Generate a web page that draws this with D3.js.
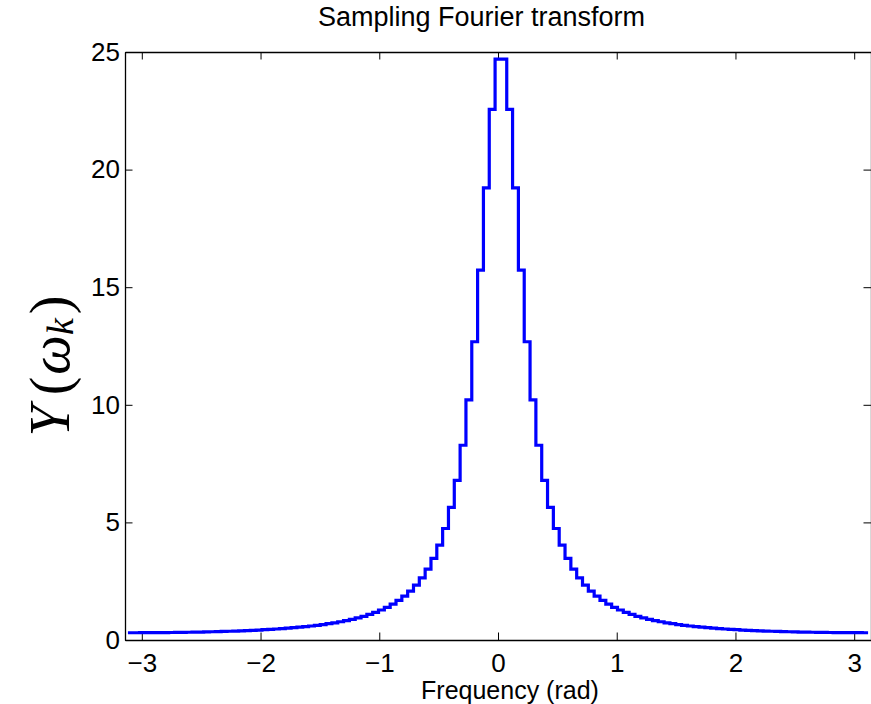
<!DOCTYPE html>
<html>
<head>
<meta charset="utf-8">
<script src="https://cdn.jsdelivr.net/npm/d3@7"></script>
<style>
  body { margin: 0; background: #fff; }
  svg { display: block; }
</style>
</head>
<body>
<div class="chart"></div>
<script>
const yValues = [
  0.309, 0.309, 0.310, 0.311, 0.312, 0.314, 0.317, 0.319, 0.322, 0.326,
  0.330, 0.334, 0.339, 0.345, 0.351, 0.357, 0.365, 0.372, 0.381, 0.390,
  0.401, 0.412, 0.424, 0.437, 0.451, 0.467, 0.484, 0.502, 0.523, 0.545,
  0.569, 0.596, 0.625, 0.657, 0.693, 0.732, 0.776, 0.824, 0.879, 0.940,
  1.008, 1.086, 1.175, 1.276, 1.391, 1.525, 1.681, 1.863, 2.078, 2.334,
  2.641, 3.013, 3.47, 4.03, 4.74, 5.64, 6.79, 8.28, 10.21, 12.68,
  15.73, 19.22, 22.56, 24.70,
  24.70, 22.56, 19.22, 15.73, 12.68, 10.21, 8.28, 6.79, 5.64, 4.74,
  4.03, 3.47, 3.013, 2.641, 2.334, 2.078, 1.863, 1.681, 1.525, 1.391,
  1.276, 1.175, 1.086, 1.008, 0.940, 0.879, 0.824, 0.776, 0.732, 0.693,
  0.657, 0.625, 0.596, 0.569, 0.545, 0.523, 0.502, 0.484, 0.467, 0.451,
  0.437, 0.424, 0.412, 0.401, 0.390, 0.381, 0.372, 0.365, 0.357, 0.351,
  0.345, 0.339, 0.334, 0.330, 0.326, 0.322, 0.319, 0.317, 0.314, 0.312,
  0.311, 0.310, 0.309, 0.309
];
const xTicks = [-3, -2, -1, 0, 1, 2, 3];
const yTicks = [0, 5, 10, 15, 20, 25];

const margin = {top: 52, right: 0, bottom: 64, left: 125};
const width = 871 - margin.left - margin.right;
const height = 704 - margin.top - margin.bottom;
const tickLen = 7.5;
const font = '"Liberation Sans", Arial, sans-serif';

const svg = d3.select("div.chart").append("svg")
  .attr("width", width + margin.left + margin.right)
  .attr("height", height + margin.top + margin.bottom)
  .append("g")
  .attr("transform", `translate(${margin.left},${margin.top})`);

const x = d3.scaleLinear()
  .domain([-Math.PI, Math.PI])
  .range([0, width]);

const y = d3.scaleLinear()
  .domain([0, 25])
  .range([height, 0]);

// sample index -> frequency (samples sit half a bin off the grid edges)
const k = d3.scaleLinear()
  .domain([-0.5, yValues.length - 0.5])
  .range([-Math.PI, Math.PI]);

// axes, MATLAB style: ticks pointing inward, box all round
svg.append("g")
  .attr("transform", `translate(0,${height})`)
  .call(d3.axisBottom(x).tickValues(xTicks).tickFormat(d3.format("d"))
    .tickSizeInner(-tickLen).tickSizeOuter(0).tickPadding(14));

svg.append("g")
  .call(d3.axisTop(x).tickValues(xTicks).tickSizeInner(-tickLen).tickSizeOuter(0).tickFormat(""));

svg.append("g")
  .call(d3.axisLeft(y).tickValues(yTicks).tickFormat(d3.format("d"))
    .tickSizeInner(-tickLen).tickSizeOuter(0).tickPadding(5));

svg.append("g")
  .attr("transform", `translate(${width},0)`)
  .call(d3.axisRight(y).tickValues(yTicks).tickSizeInner(-tickLen).tickSizeOuter(0).tickFormat(""));

svg.selectAll(".domain").attr("stroke", "#000").attr("stroke-width", 1.3);
svg.selectAll(".tick line").attr("stroke", "#000");
svg.selectAll(".tick text")
  .style("font-family", font)
  .style("font-size", "26px")
  .attr("fill", "#000");

// the stairs line
const line = d3.line()
  .x((d, i) => x(k(i)))
  .y(d => y(d))
  .curve(d3.curveStepAfter);

svg.append("path")
  .datum(yValues)
  .attr("fill", "none")
  .attr("stroke", "#0000ff")
  .attr("stroke-width", 3.2)
  .attr("d", line);

// title and axis labels
svg.append("text")
  .attr("x", 356.5)
  .attr("y", 26 - margin.top)
  .attr("text-anchor", "middle")
  .style("font-family", font)
  .style("font-size", "27px")
  .text("Sampling Fourier transform");

svg.append("text")
  .attr("x", x(0) + 12)
  .attr("y", height + 59)
  .attr("text-anchor", "middle")
  .style("font-family", font)
  .style("font-size", "25px")
  .text("Frequency (rad)");

// Y(ω_k) label, rotated
const yl = svg.append("text")
  .attr("transform", `translate(${50 - margin.left},${height / 2 + 20}) rotate(-90)`)
  .attr("text-anchor", "middle")
  .attr("dominant-baseline", "central")
  .style("font-family", '"Liberation Serif", "Times New Roman", serif')
  .style("font-size", "56px");

yl.append("tspan").style("font-style", "italic").text("Y");
yl.append("tspan").attr("dx", 10).text("(");
yl.append("tspan").attr("dx", 2).style("font-style", "italic").text("ω");
yl.append("tspan").style("font-style", "italic").style("font-size", "38px").attr("dy", 10).text("k");
yl.append("tspan").attr("dy", -10).attr("dx", 4).text(")");
</script>
</body>
</html>
